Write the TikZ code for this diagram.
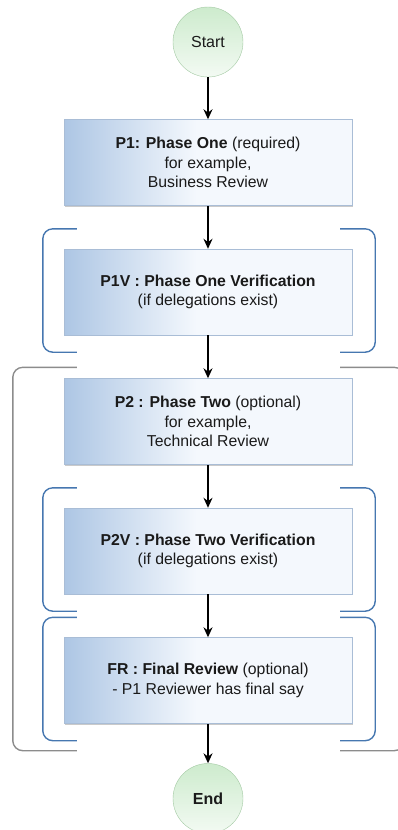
\documentclass[tikz,border=0pt]{standalone}
\usepackage{fontspec}
\setmainfont{Liberation Sans}
\usetikzlibrary{arrows,arrows.meta,positioning,calc,shadows}

\definecolor{boxblue}{HTML}{ADC6E4}
\definecolor{boxwhite}{HTML}{F4F8FD}
\definecolor{boxline}{HTML}{A9BDD6}
\definecolor{ballgreen}{HTML}{CDEBCD}
\definecolor{ballwhite}{HTML}{F3FAF3}
\definecolor{ballline}{HTML}{A3C9A3}
\definecolor{brackblue}{HTML}{4677B0}
\definecolor{brackgray}{HTML}{8C8C8C}
\definecolor{inktext}{HTML}{1A1A1A}

\pgfdeclarehorizontalshading{phaseshade}{100bp}{color(0bp)=(boxblue); color(25bp)=(boxblue); color(48bp)=(boxwhite); color(100bp)=(boxwhite)}

\begin{document}
\begin{tikzpicture}[x=1pt,y=1pt,node distance=129.5pt,>={Stealth[length=10pt,width=9pt]},auto]
        \tikzstyle{terminal}=[circle,draw=ballline,top color=ballgreen,bottom color=ballwhite,minimum size=70pt,inner sep=0pt,text=inktext,font=\fontsize{16}{19}\selectfont]
        \tikzstyle{phase}=[rectangle,draw=boxline,shade,shading=phaseshade,minimum width=288pt,minimum height=86pt,align=center,text=inktext,font=\fontsize{15.8}{19.5}\selectfont,drop shadow={shadow xshift=1pt,shadow yshift=-1pt,fill=black!35,opacity=.6}]
        \tikzstyle{pre}=[<-,line width=1.5pt]
        \tikzstyle{bracket}=[line width=1.4pt,draw=brackblue,rounded corners=10pt]
        \tikzstyle{outer}=[line width=1.4pt,draw=brackgray,rounded corners=10pt]

        \useasboundingbox (0,0) rectangle (398,-830);

        \node [terminal] (start) at (208,-42) {Start};
        \node [phase] (p1) [below of=start, node distance=120.5pt] {\textbf{P1: Phase One} (required)\\for example,\\Business Review} %required phase
            edge [pre] (start);
        \node [phase] (p1v) [below of=p1] {\textbf{P1V : Phase One Verification}\\(if delegations exist)}
            edge [pre] (p1);
        \node [phase] (p2) [below of=p1v] {\textbf{P2 : Phase Two} (optional)\\for example,\\Technical Review} %optional phase
            edge [pre] (p1v);
        \node [phase] (p2v) [below of=p2] {\textbf{P2V : Phase Two Verification}\\(if delegations exist)}
            edge [pre] (p2);
        \node [phase] (fr) [below of=p2v] {\textbf{FR : Final Review} (optional)\\- P1 Reviewer has final say}
            edge [pre] (p2v);
        \node [terminal] (end) [below of=fr, node distance=118pt] {\textbf{End}}
            edge [pre] (fr);

        % brackets round the verification steps
        \foreach \b in {p1v,p2v,fr} {
            \draw [bracket] ($(\b.north west)+(13,20)$) -| ($(\b.west)+(-21,0)$) |- ($(\b.south west)+(13,-17)$);
            \draw [bracket] ($(\b.north east)+(-12,20)$) -| ($(\b.east)+(23,0)$) |- ($(\b.south east)+(-12,-17)$);
        }
        % bracket round phase two
        \draw [outer] ($(p2.north west)+(13,11)$) -| ($(p2.west)+(-51,0)$) |- ($(fr.south west)+(13,-27)$);
        \draw [outer] ($(p2.north east)+(-12,11)$) -| ($(fr.south east)+(52,-27)$) -- ($(fr.south east)+(-12,-27)$);
    \end{tikzpicture}
\end{document}
